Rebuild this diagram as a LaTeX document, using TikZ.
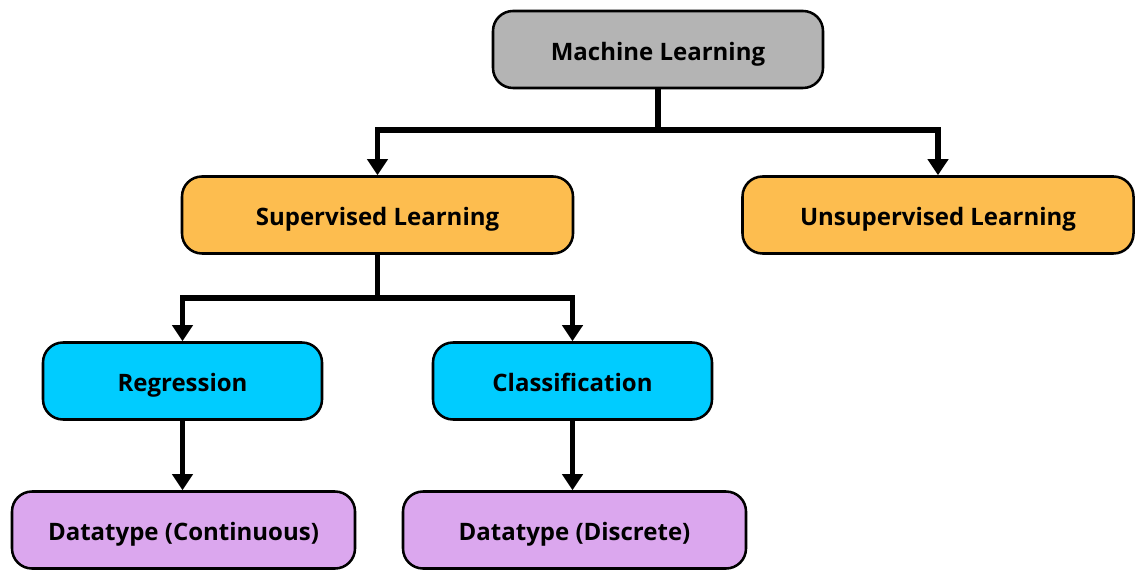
\documentclass[tikz,border=0pt]{standalone}
\usepackage{fontspec}
\setmainfont{Open Sans}
\usetikzlibrary{arrows.meta}
\definecolor{mlgray}{HTML}{B4B4B4}
\definecolor{suporange}{HTML}{FDBD4F}
\definecolor{regcyan}{HTML}{00CCFF}
\definecolor{dtpurple}{HTML}{DBA7EE}
\tikzset{
  box/.style={draw=black, line width=1.9pt, rounded corners=15pt, align=center,
    font=\fontsize{18}{21}\selectfont\bfseries, minimum height=57.75pt, inner sep=0pt,
    text height=17pt, text depth=1.2pt},
  conn/.style={line width=3.9pt, -{Triangle[width=15pt,length=12pt]}},
  trunk/.style={line width=3.9pt}
}
\begin{document}
\begin{tikzpicture}[x=0.75pt,y=-0.75pt]
\useasboundingbox (0,0) rectangle (1144,580);
\node[box, fill=mlgray, minimum width=247.5pt] (ml) at (658,49.5) {Machine Learning};
\node[box, fill=suporange, minimum width=293.25pt] (sup) at (377.5,215) {Supervised Learning};
\node[box, fill=suporange, minimum width=293.25pt] (unsup) at (938,215) {Unsupervised Learning};
\node[box, fill=regcyan, minimum width=209.25pt] (reg) at (182.5,381) {Regression};
\node[box, fill=regcyan, minimum width=209.25pt] (cls) at (572.5,381) {Classification};
\node[box, fill=dtpurple, minimum width=257.25pt] (dc) at (183.5,530) {Datatype (Continuous)};
\node[box, fill=dtpurple, minimum width=257.25pt] (dd) at (574.5,530) {Datatype (Discrete)};
\coordinate (j1) at (658,130);
\coordinate (j2) at (377.5,298);
\draw[trunk] (ml.south) -- (j1);
\draw[conn] (j1) -| (sup.north);
\draw[conn] (j1) -| (unsup.north);
\draw[trunk] (sup.south) -- (j2);
\draw[conn] (j2) -| (reg.north);
\draw[conn] (j2) -| (cls.north);
\draw[conn] (reg.south) -- (reg.south |- dc.north);
\draw[conn] (cls.south) -- (cls.south |- dd.north);
\end{tikzpicture}
\end{document}
